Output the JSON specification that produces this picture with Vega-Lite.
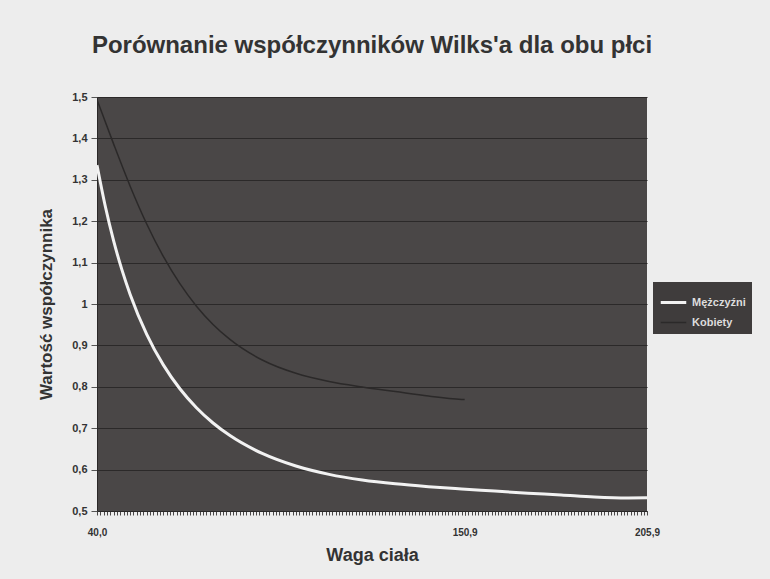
{
  "$schema": "https://vega.github.io/schema/vega-lite/v6.json",
  "width": 550,
  "height": 414,
  "autosize": {"type": "none"},
  "padding": {"left": 97, "top": 97, "right": 123, "bottom": 68},
  "background": "#ededed",
  "title": {
    "text": "Porównanie współczynników Wilks'a dla obu płci",
    "font": "Liberation Sans",
    "fontSize": 24,
    "fontWeight": "bold",
    "color": "#333333",
    "anchor": "middle",
    "offset": 33
  },
  "data": {
    "values": [
      {"waga": 40, "wsp": 1.3354, "plec": "Mężczyźni"},
      {"waga": 42.5, "wsp": 1.2360, "plec": "Mężczyźni"},
      {"waga": 45, "wsp": 1.1531, "plec": "Mężczyźni"},
      {"waga": 47.5, "wsp": 1.0830, "plec": "Mężczyźni"},
      {"waga": 50, "wsp": 1.0232, "plec": "Mężczyźni"},
      {"waga": 55, "wsp": 0.9267, "plec": "Mężczyźni"},
      {"waga": 60, "wsp": 0.8529, "plec": "Mężczyźni"},
      {"waga": 65, "wsp": 0.7952, "plec": "Mężczyźni"},
      {"waga": 70, "wsp": 0.7494, "plec": "Mężczyźni"},
      {"waga": 75, "wsp": 0.7126, "plec": "Mężczyźni"},
      {"waga": 80, "wsp": 0.6827, "plec": "Mężczyźni"},
      {"waga": 90, "wsp": 0.6384, "plec": "Mężczyźni"},
      {"waga": 100, "wsp": 0.6086, "plec": "Mężczyźni"},
      {"waga": 110, "wsp": 0.5885, "plec": "Mężczyźni"},
      {"waga": 120, "wsp": 0.5749, "plec": "Mężczyźni"},
      {"waga": 130, "wsp": 0.5656, "plec": "Mężczyźni"},
      {"waga": 140, "wsp": 0.5588, "plec": "Mężczyźni"},
      {"waga": 150, "wsp": 0.5533, "plec": "Mężczyźni"},
      {"waga": 160, "wsp": 0.5482, "plec": "Mężczyźni"},
      {"waga": 170, "wsp": 0.5431, "plec": "Mężczyźni"},
      {"waga": 180, "wsp": 0.5388, "plec": "Mężczyźni"},
      {"waga": 190, "wsp": 0.5339, "plec": "Mężczyźni"},
      {"waga": 200, "wsp": 0.5316, "plec": "Mężczyźni"},
      {"waga": 205.9, "wsp": 0.5319, "plec": "Mężczyźni"},
      {"waga": 40, "wsp": 1.4936, "plec": "Kobiety"},
      {"waga": 45, "wsp": 1.3868, "plec": "Kobiety"},
      {"waga": 50, "wsp": 1.2846, "plec": "Kobiety"},
      {"waga": 55, "wsp": 1.1933, "plec": "Kobiety"},
      {"waga": 60, "wsp": 1.1149, "plec": "Kobiety"},
      {"waga": 65, "wsp": 1.0491, "plec": "Kobiety"},
      {"waga": 70, "wsp": 0.9948, "plec": "Kobiety"},
      {"waga": 75, "wsp": 0.9506, "plec": "Kobiety"},
      {"waga": 80, "wsp": 0.9150, "plec": "Kobiety"},
      {"waga": 90, "wsp": 0.8641, "plec": "Kobiety"},
      {"waga": 100, "wsp": 0.8326, "plec": "Kobiety"},
      {"waga": 110, "wsp": 0.8129, "plec": "Kobiety"},
      {"waga": 120, "wsp": 0.7996, "plec": "Kobiety"},
      {"waga": 130, "wsp": 0.7885, "plec": "Kobiety"},
      {"waga": 140, "wsp": 0.7776, "plec": "Kobiety"},
      {"waga": 150, "wsp": 0.7695, "plec": "Kobiety"},
      {"waga": 150.9, "wsp": 0.7691, "plec": "Kobiety"}
    ]
  },
  "mark": {"type": "line", "interpolate": "monotone", "clip": true},
  "encoding": {
    "x": {
      "field": "waga",
      "type": "quantitative",
      "scale": {"domain": [40, 205.9], "nice": false, "zero": false},
      "axis": {
        "title": "Waga ciała",
        "titleFont": "Liberation Sans",
        "titleFontSize": 18,
        "titleFontWeight": "bold",
        "titleColor": "#333333",
        "titlePadding": 9,
        "grid": false,
        "domainColor": "#2a2828",
        "tickColor": "#4a4747",
        "tickSize": 4,
        "labelFont": "Liberation Sans",
        "labelFontSize": 10,
        "labelFontWeight": "bold",
        "labelColor": "#333333",
        "labelPadding": 12,
        "labelFlush": false,
        "labelOverlap": false,
        "labelBound": false,
        "values": [40,41,42,43,44,45,46,47,48,49,50,51,52,53,54,55,56,57,58,59,60,61,62,63,64,65,66,67,68,69,70,71,72,73,74,75,76,77,78,79,80,81,82,83,84,85,86,87,88,89,90,91,92,93,94,95,96,97,98,99,100,101,102,103,104,105,106,107,108,109,110,111,112,113,114,115,116,117,118,119,120,121,122,123,124,125,126,127,128,129,130,131,132,133,134,135,136,137,138,139,140,141,142,143,144,145,146,147,148,149,150,150.9,151,152,153,154,155,156,157,158,159,160,161,162,163,164,165,166,167,168,169,170,171,172,173,174,175,176,177,178,179,180,181,182,183,184,185,186,187,188,189,190,191,192,193,194,195,196,197,198,199,200,201,202,203,204,205,205.9],
        "labelExpr": "(datum.value == 40 || datum.value == 150.9 || datum.value == 205.9) ? replace(format(datum.value, '.1f'), '.', ',') : ''"
      }
    },
    "y": {
      "field": "wsp",
      "type": "quantitative",
      "scale": {"domain": [0.5, 1.5], "nice": false, "zero": false},
      "axis": {
        "title": "Wartość współczynnika",
        "titleFont": "Liberation Sans",
        "titleFontSize": 17,
        "titleFontWeight": "bold",
        "titleColor": "#333333",
        "titlePadding": 16,
        "values": [0.5, 0.6, 0.7, 0.8, 0.9, 1, 1.1, 1.2, 1.3, 1.4, 1.5],
        "labelExpr": "replace(format(datum.value, '.1~f'), '.', ',')",
        "labelFont": "Liberation Sans",
        "labelFontSize": 11,
        "labelFontWeight": "bold",
        "labelColor": "#333333",
        "labelPadding": 4,
        "tickSize": 6,
        "tickColor": "#555555",
        "domainColor": "#2a2828",
        "gridColor": "#2b2929",
        "gridWidth": 1
      }
    },
    "color": {
      "field": "plec",
      "type": "nominal",
      "scale": {"domain": ["Mężczyźni", "Kobiety"], "range": ["#f2f2f2", "#2b2929"]},
      "legend": {
        "title": null,
        "orient": "none",
        "legendX": 556,
        "legendY": 185,
        "fillColor": "#3f3c3c",
        "padding": 6,
        "symbolType": "stroke",
        "symbolSize": 650,
        "symbolStrokeWidth": 3,
        "labelFont": "Liberation Sans",
        "labelFontSize": 11,
        "labelFontWeight": "bold",
        "labelColor": "#dddddd",
        "labelOffset": 4,
        "rowPadding": 0
      }
    },
    "strokeWidth": {
      "field": "plec",
      "type": "nominal",
      "scale": {"domain": ["Mężczyźni", "Kobiety"], "range": [3, 1.5]},
      "legend": null
    }
  },
  "config": {
    "view": {"fill": "#4a4747", "stroke": null}
  }
}
